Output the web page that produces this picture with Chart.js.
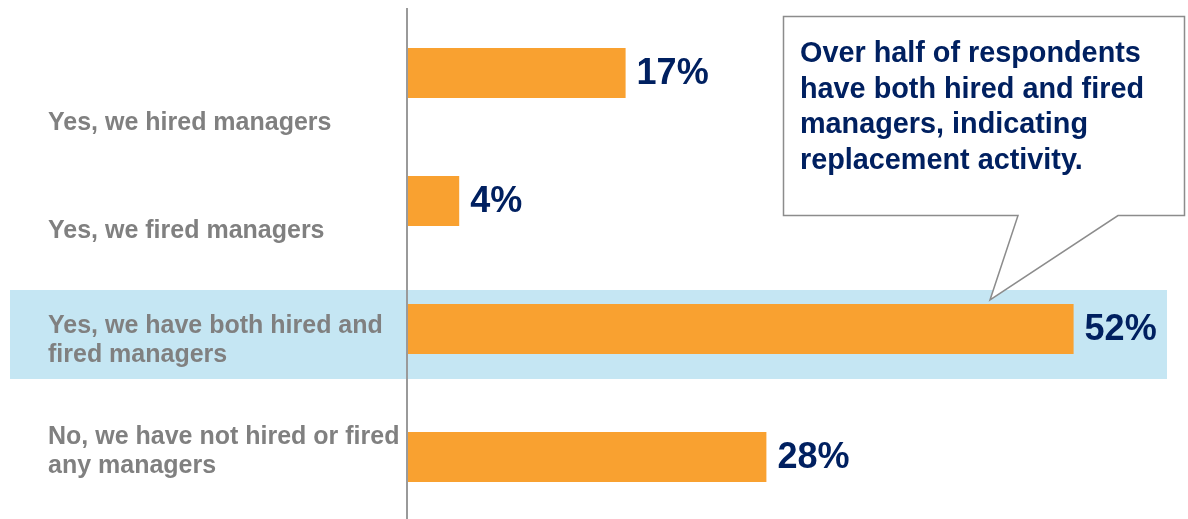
<!DOCTYPE html>
<html>
<head>
<meta charset="utf-8">
<script src="https://cdn.jsdelivr.net/npm/chart.js@4.4.1/dist/chart.umd.min.js"></script>
<style>
  html, body { margin: 0; padding: 0; background: #fff; overflow: hidden; }
  canvas { display: block; }
</style>
</head>
<body>
<canvas id="bar-chart" width="1188" height="521"></canvas>
<script>
const categories = [
  ['Yes, we hired managers'],
  ['Yes, we fired managers'],
  ['Yes, we have both hired and', 'fired managers'],
  ['No, we have not hired or fired', 'any managers']
];
const shares = [17, 4, 52, 28];
const highlightIndex = 2;
const calloutLines = [
  'Over half of respondents',
  'have both hired and fired',
  'managers, indicating',
  'replacement activity.'
];

const FONT = "'Liberation Sans', Arial, sans-serif";
const NAVY = '#002060';
const GREY_TEXT = '#808080';

// baseline of each category label, measured from its bar's centre
const labelShift = [57, 37, 4, -13];

const decorations = {
  id: 'decorations',
  beforeDatasetsDraw(chart) {
    const { ctx, scales: { y } } = chart;
    const cy = y.getPixelForValue(highlightIndex);
    ctx.save();
    // light blue band behind the highlighted row
    ctx.fillStyle = '#C5E6F3';
    ctx.fillRect(10, cy - 39, 1157, 89);
    ctx.restore();
  },
  afterDatasetsDraw(chart) {
    const { ctx, chartArea, scales: { x, y } } = chart;
    ctx.save();

    // vertical axis line
    ctx.strokeStyle = '#9a9a9a';
    ctx.lineWidth = 2;
    ctx.beginPath();
    ctx.moveTo(chartArea.left - 1, 8);
    ctx.lineTo(chartArea.left - 1, chart.height);
    ctx.stroke();

    // category labels
    ctx.fillStyle = GREY_TEXT;
    ctx.font = 'bold 25px ' + FONT;
    ctx.textAlign = 'left';
    ctx.textBaseline = 'alphabetic';
    categories.forEach((lines, i) => {
      const base = y.getPixelForValue(i) + labelShift[i];
      lines.forEach((t, j) => ctx.fillText(t, 48, base + j * 29));
    });

    // value labels
    ctx.fillStyle = NAVY;
    ctx.font = 'bold 36px ' + FONT;
    ctx.textBaseline = 'middle';
    shares.forEach((v, i) => {
      ctx.fillText(v + '%', x.getPixelForValue(v) + 11, y.getPixelForValue(i) + 1.5);
    });

    // speech bubble
    const bx = 783.5, by = 16.5, bw = 401, bh = 199;
    const tipY = y.getPixelForValue(highlightIndex) - 29;
    ctx.beginPath();
    ctx.moveTo(bx, by);
    ctx.lineTo(bx + bw, by);
    ctx.lineTo(bx + bw, by + bh);
    ctx.lineTo(1118, by + bh);
    ctx.lineTo(990, tipY);
    ctx.lineTo(1018, by + bh);
    ctx.lineTo(bx, by + bh);
    ctx.closePath();
    ctx.fillStyle = '#fff';
    ctx.fill();
    ctx.strokeStyle = '#8c8c8c';
    ctx.lineWidth = 1.5;
    ctx.stroke();

    ctx.fillStyle = NAVY;
    ctx.font = 'bold 28.8px ' + FONT;
    ctx.textBaseline = 'alphabetic';
    calloutLines.forEach((t, i) => ctx.fillText(t, 800, 62 + i * 35.7));

    ctx.restore();
  }
};

const ctx = document.getElementById('bar-chart').getContext('2d');
const chart = new Chart(ctx, {
  type: 'bar',
  data: {
    labels: categories,
    datasets: [{
      data: shares,
      backgroundColor: '#F9A130',
      borderWidth: 0,
      categoryPercentage: 1,
      barPercentage: 0.39
    }]
  },
  options: {
    indexAxis: 'y',
    responsive: false,
    devicePixelRatio: 1,
    animation: false,
    layout: { padding: { left: 408, right: 12, top: 9, bottom: 0 } },
    scales: {
      x: { display: false, min: 0, max: 60 },
      y: { display: false }
    },
    plugins: {
      legend: { display: false },
      tooltip: { enabled: false }
    }
  },
  plugins: [decorations]
});
</script>
</body>
</html>
